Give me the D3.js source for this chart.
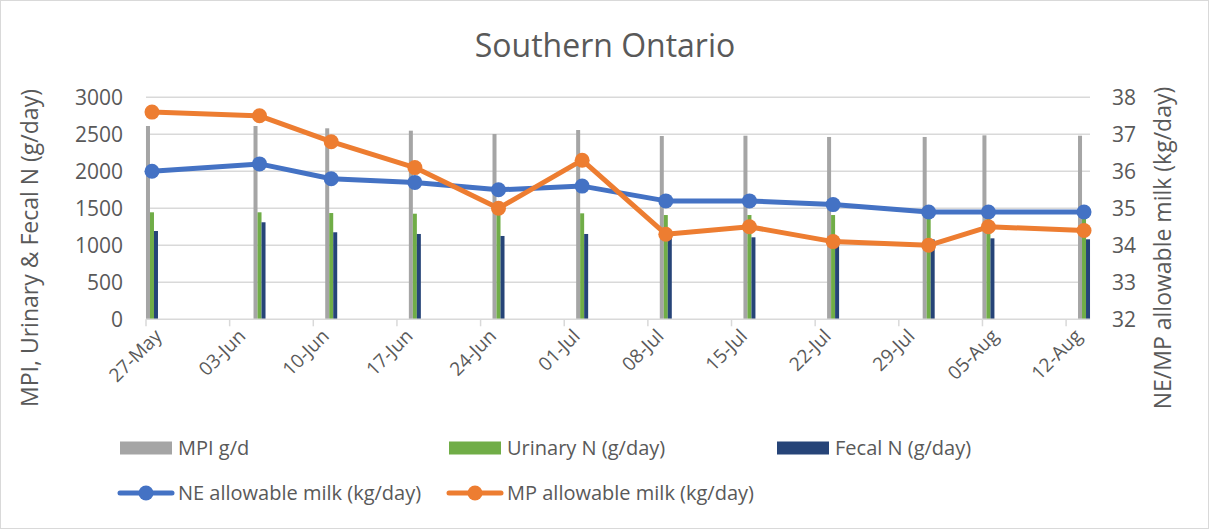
<!DOCTYPE html>
<html>
<head>
<meta charset="utf-8">
<script src="https://d3js.org/d3.v7.min.js"></script>
<style>
  body { margin: 0; background: #fff; }
  text { font-family: "Open Sans", sans-serif; fill: #595959; }
</style>
</head>
<body>
<div id="chart"></div>
<script>
// data
var dates = ["2021-05-27", "2021-06-05", "2021-06-11", "2021-06-18", "2021-06-25", "2021-07-02",
             "2021-07-09", "2021-07-16", "2021-07-23", "2021-07-31", "2021-08-05", "2021-08-13"];
var mpi      = [2612, 2612, 2581, 2549, 2504, 2558, 2477, 2481, 2464, 2464, 2486, 2481];
var urinary  = [1446, 1446, 1436, 1427, 1420, 1432, 1409, 1409, 1409, 1400, 1400, 1400];
var fecal    = [1193, 1311, 1176, 1153, 1126, 1153, 1120, 1108, 1090, 1080, 1094, 1081];
var neMilk   = [36.0, 36.2, 35.8, 35.7, 35.5, 35.6, 35.2, 35.2, 35.1, 34.9, 34.9, 34.9];
var mpMilk   = [37.6, 37.5, 36.8, 36.1, 35.0, 36.3, 34.3, 34.5, 34.1, 34.0, 34.5, 34.4];
var xTicks   = ["2021-05-27", "2021-06-03", "2021-06-10", "2021-06-17", "2021-06-24", "2021-07-01",
                "2021-07-08", "2021-07-15", "2021-07-22", "2021-07-29", "2021-08-05", "2021-08-12"];
var leftTicks  = [0, 500, 1000, 1500, 2000, 2500, 3000];
var rightTicks = [32, 33, 34, 35, 36, 37, 38];
var barNames  = ["MPI g/d", "Urinary N (g/day)", "Fecal N (g/day)"];
var lineNames = ["NE allowable milk (kg/day)", "MP allowable milk (kg/day)"];

var W = 1209, H = 529;
var plot = { left: 146, right: 1090, top: 97.3, bottom: 319.3 };

var svg = d3.select("#chart").append("svg")
  .attr("width", W).attr("height", H);

svg.append("rect")
  .attr("x", 0.5).attr("y", 0.5).attr("width", W - 1).attr("height", H - 1)
  .attr("fill", "#fff").attr("stroke", "#d9d9d9");

var parse = d3.utcParse("%Y-%m-%d");
var fmt = d3.utcFormat("%d-%b");
var half = 12 * 3600 * 1000;

var x = d3.scaleUtc()
  .domain([parse("2021-05-27"), parse("2021-08-14")])
  .range([plot.left, plot.right]);
var yL = d3.scaleLinear().domain([0, 3000]).range([plot.bottom, plot.top]);
var yR = d3.scaleLinear().domain([32, 38]).range([plot.bottom, plot.top]);

var cx = function(d) { return x(new Date(+parse(d) + half)); };

// title
svg.append("text")
  .attr("x", 605).attr("y", 57)
  .attr("text-anchor", "middle")
  .style("font-size", "32px")
  .text("Southern Ontario");

// gridlines
svg.append("g").selectAll("line")
  .data(leftTicks.slice(1))
  .enter().append("line")
  .attr("x1", plot.left).attr("x2", plot.right)
  .attr("y1", function(d) { return yL(d); }).attr("y2", function(d) { return yL(d); })
  .attr("stroke", "#d9d9d9").attr("stroke-width", 1.5);

// left axis
var leftAxis = svg.append("g")
  .attr("transform", "translate(" + plot.left + ",0)")
  .call(d3.axisLeft(yL).tickValues(leftTicks).tickFormat(d3.format("d")).tickSize(0).tickPadding(23));
leftAxis.select(".domain").remove();
leftAxis.selectAll("text").style("font-size", "21px").attr("fill", "#595959")
  .style("font-family", "'Open Sans', sans-serif");

// right axis
var rightAxis = svg.append("g")
  .attr("transform", "translate(" + plot.right + ",0)")
  .call(d3.axisRight(yR).tickValues(rightTicks).tickFormat(d3.format("d")).tickSize(0).tickPadding(22));
rightAxis.select(".domain").remove();
rightAxis.selectAll("text").style("font-size", "21px").attr("fill", "#595959")
  .style("font-family", "'Open Sans', sans-serif");

// bars
var barColors = ["#a5a5a5", "#70ad47", "#264478"];
var barSeries = [mpi, urinary, fecal];
var bw = 4;
barSeries.forEach(function(vals, k) {
  svg.append("g").selectAll("rect")
    .data(vals)
    .enter().append("rect")
    .attr("x", function(d, i) { return cx(dates[i]) - 1.5 * bw + k * bw; })
    .attr("width", bw)
    .attr("y", function(d) { return yL(d); })
    .attr("height", function(d) { return yL(0) - yL(d); })
    .attr("fill", barColors[k]);
});

// x axis
svg.append("line")
  .attr("x1", plot.left).attr("x2", plot.right)
  .attr("y1", plot.bottom).attr("y2", plot.bottom)
  .attr("stroke", "#d9d9d9").attr("stroke-width", 1.5);
var xt = svg.append("g").selectAll("g")
  .data(xTicks)
  .enter().append("g")
  .attr("transform", function(d) { return "translate(" + x(parse(d)) + "," + plot.bottom + ")"; });
xt.append("line").attr("y1", 0).attr("y2", 7).attr("stroke", "#d9d9d9").attr("stroke-width", 1.5);
xt.append("text")
  .attr("text-anchor", "end")
  .attr("transform", "translate(17,18) rotate(-45)")
  .style("font-size", "19px")
  .text(function(d) { return fmt(parse(d)); });

// lines
var lineColors = ["#4472c4", "#ed7d31"];
var lineSeries = [neMilk, mpMilk];
lineSeries.forEach(function(vals, k) {
  var line = d3.line()
    .x(function(d, i) { return cx(dates[i]); })
    .y(function(d) { return yR(d); });
  svg.append("path")
    .attr("d", line(vals))
    .attr("fill", "none")
    .attr("stroke", lineColors[k])
    .attr("stroke-width", 5)
    .attr("stroke-linejoin", "round");
  svg.append("g").selectAll("circle")
    .data(vals)
    .enter().append("circle")
    .attr("cx", function(d, i) { return cx(dates[i]); })
    .attr("cy", function(d) { return yR(d); })
    .attr("r", 7.5)
    .attr("fill", lineColors[k]);
});

// axis titles
svg.append("text")
  .attr("transform", "translate(38,248) rotate(-90)")
  .attr("text-anchor", "middle")
  .style("font-size", "23px")
  .text("MPI, Urinary & Fecal N (g/day)");
svg.append("text")
  .attr("transform", "translate(1171,248) rotate(-90)")
  .attr("text-anchor", "middle")
  .style("font-size", "23px")
  .text("NE/MP allowable milk (kg/day)");

// legend
var legX = [120, 449, 777];
barNames.forEach(function(name, k) {
  var g = svg.append("g").attr("transform", "translate(" + legX[k] + ",448)");
  g.append("rect").attr("x", 0).attr("y", -6.5).attr("width", 52).attr("height", 13).attr("fill", barColors[k]);
  g.append("text").attr("x", 58).attr("y", 7).style("font-size", "20px").text(name);
});
lineNames.forEach(function(name, k) {
  var g = svg.append("g").attr("transform", "translate(" + legX[k] + ",493)");
  g.append("line").attr("x1", 0).attr("x2", 52).attr("stroke", lineColors[k]).attr("stroke-width", 5)
    .attr("stroke-linecap", "round");
  g.append("circle").attr("cx", 26).attr("r", 7.5).attr("fill", lineColors[k]);
  g.append("text").attr("x", 58).attr("y", 7).style("font-size", "20px").text(name);
});
</script>
</body>
</html>
